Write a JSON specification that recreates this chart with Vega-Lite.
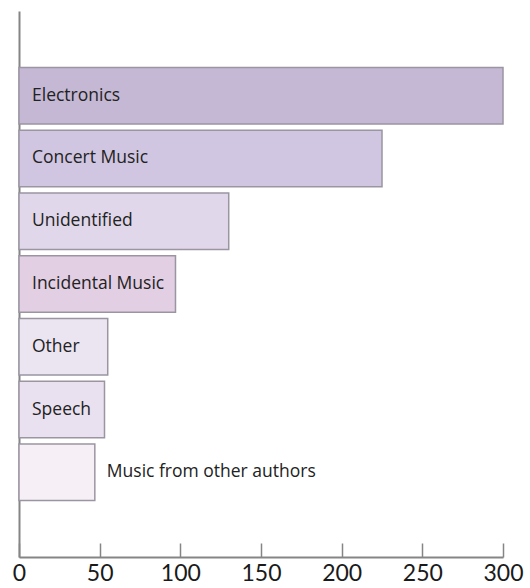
{
  "$schema": "https://vega.github.io/schema/vega-lite/v6.json",
  "width": 484,
  "height": 546,
  "autosize": {"type": "none"},
  "padding": {"left": 19, "top": 11, "right": 27, "bottom": 31},
  "background": "white",
  "data": {
    "values": [
      {"category": "Electronics", "value": 300, "color": "#c4b8d4"},
      {"category": "Concert Music", "value": 225, "color": "#d1c6e1"},
      {"category": "Unidentified", "value": 130, "color": "#e1d7ea"},
      {"category": "Incidental Music", "value": 97, "color": "#e2cfe3"},
      {"category": "Other", "value": 55, "color": "#ebe4f1"},
      {"category": "Speech", "value": 53, "color": "#e9e1f0"},
      {"category": "Music from other authors", "value": 47, "color": "#f6f0f6"}
    ]
  },
  "config": {
    "view": {"stroke": null},
    "axis": {"grid": false}
  },
  "encoding": {
    "y": {
      "field": "category",
      "type": "nominal",
      "sort": null,
      "scale": {"paddingInner": 0.1, "paddingOuter": 0.9},
      "axis": {
        "title": null,
        "labels": false,
        "ticks": false,
        "domain": true,
        "domainColor": "#858585",
        "domainWidth": 2
      }
    }
  },
  "layer": [
    {
      "mark": {"type": "bar", "stroke": "#9b95a2", "strokeWidth": 1.5},
      "encoding": {
        "x": {
          "field": "value",
          "type": "quantitative",
          "scale": {"domain": [0, 300], "nice": false},
          "axis": {
            "title": null,
            "values": [0, 50, 100, 150, 200, 250, 300],
            "domainColor": "#858585",
            "domainWidth": 2,
            "tickColor": "#858585",
            "tickWidth": 1.5,
            "tickSize": -14,
            "labelPadding": 19,
            "labelFont": "Lato",
            "labelFontSize": 23,
            "labelColor": "#1a1a1a",
            "labelFlush": false
          }
        },
        "fill": {"field": "color", "type": "nominal", "scale": null}
      }
    },
    {
      "transform": [{"filter": "datum.category !== 'Music from other authors'"}],
      "mark": {"type": "text", "align": "left", "baseline": "middle", "dx": 13, "font": "Open Sans", "fontSize": 17.5, "fontWeight": 500, "color": "#222222"},
      "encoding": {
        "x": {"datum": 0, "type": "quantitative"},
        "text": {"field": "category"}
      }
    },
    {
      "transform": [{"filter": "datum.category === 'Music from other authors'"}],
      "mark": {"type": "text", "align": "left", "baseline": "middle", "dx": 12, "font": "Open Sans", "fontSize": 17.5, "fontWeight": 500, "color": "#222222"},
      "encoding": {
        "x": {"field": "value", "type": "quantitative"},
        "text": {"field": "category"}
      }
    }
  ]
}
